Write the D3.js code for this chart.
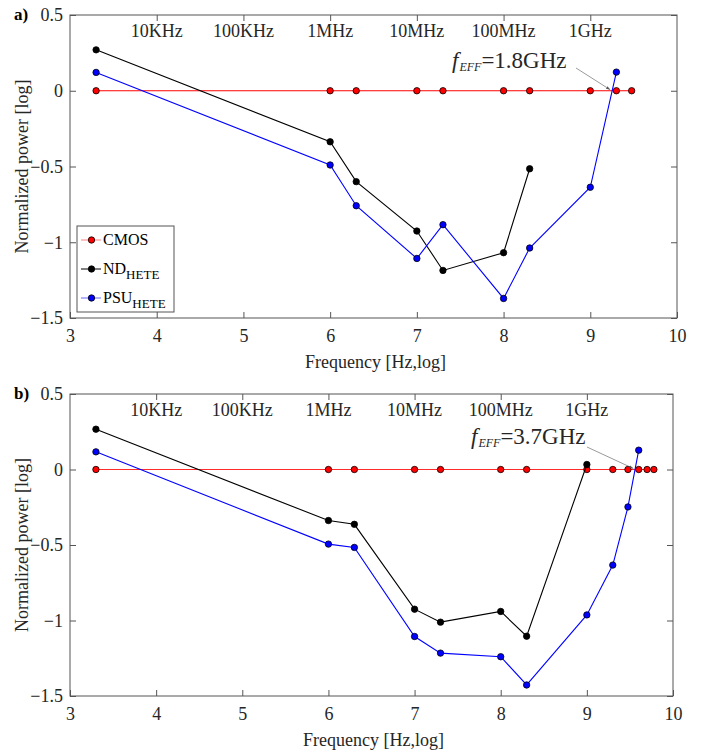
<!DOCTYPE html>
<html>
<head>
<meta charset="utf-8">
<script src="https://cdn.jsdelivr.net/npm/d3@7"></script>
<style>
  body { margin: 0; background: #fff; }
  svg text { font-family: "Liberation Serif", "DejaVu Serif", serif; fill: #262626; }
</style>
</head>
<body>
<svg id="chart" width="702" height="751"></svg>
<script>
var FONT = '"Liberation Serif", "DejaVu Serif", serif';

// tick labels
var yTicks = [0.5, 0, -0.5, -1, -1.5];
var xTicks = [3, 4, 5, 6, 7, 8, 9, 10];
var topTicks = [4, 5, 6, 7, 8, 9];
var topLabels = ['10KHz', '100KHz', '1MHz', '10MHz', '100MHz', '1GHz'];

// panel a) log10 frequency / normalized power
var aCmosX = [3.301, 6, 6.301, 7, 7.301, 8, 8.301, 9, 9.301, 9.477];
var aNdX = [3.301, 6, 6.301, 7, 7.301, 8, 8.301];
var aNdY = [0.27, -0.337, -0.60, -0.926, -1.186, -1.069, -0.515];
var aPsuX = [3.301, 6, 6.301, 7, 7.301, 8, 8.301, 9, 9.301];
var aPsuY = [0.121, -0.49, -0.759, -1.107, -0.884, -1.371, -1.038, -0.637, 0.123];

// panel b)
var bCmosX = [3.301, 6, 6.301, 7, 7.301, 8, 8.301, 9, 9.301, 9.477, 9.602, 9.699, 9.778];
var bNdX = [3.301, 6, 6.301, 7, 7.301, 8, 8.301, 9];
var bNdY = [0.267, -0.338, -0.363, -0.925, -1.011, -0.94, -1.104, 0.033];
var bPsuX = [3.301, 6, 6.301, 7, 7.301, 8, 8.301, 9, 9.301, 9.477, 9.602];
var bPsuY = [0.117, -0.494, -0.516, -1.106, -1.216, -1.24, -1.427, -0.963, -0.633, -0.248, 0.128];

var svg = d3.select('#chart');

svg.append('defs').append('marker')
  .attr('id', 'arr')
  .attr('viewBox', '0 0 10 10')
  .attr('refX', 10).attr('refY', 5)
  .attr('markerWidth', 7).attr('markerHeight', 7)
  .attr('orient', 'auto')
  .append('path')
  .attr('d', 'M0,1.5 L10,5 L0,8.5 z')
  .attr('fill', '#555');

function zip(xs, ys) {
  return xs.map(function (x, i) { return [x, ys ? ys[i] : 0]; });
}

function panel(o) {
  var g = svg.append('g');
  var x = d3.scaleLinear().domain([3, 10]).range([o.x0, o.x1]);
  var y = d3.scaleLinear().domain([-1.5, 0.5]).range([o.y1, o.y0]);

  // box
  g.append('rect')
    .attr('x', o.x0).attr('y', o.y0)
    .attr('width', o.x1 - o.x0).attr('height', o.y1 - o.y0)
    .attr('fill', 'none').attr('stroke', '#555').attr('stroke-width', 1);

  var ax = function (a) {
    a.attr('font-family', FONT).attr('font-size', 18);
    a.select('.domain').remove();
    a.selectAll('line').attr('stroke', '#555');
    a.selectAll('text').style('font-family', FONT).style('font-size', '18px').attr('fill', '#262626');
  };

  g.append('g').attr('transform', 'translate(0,' + o.y1 + ')')
    .call(d3.axisBottom(x).tickValues(xTicks).tickSize(-6).tickPadding(11).tickFormat(d3.format('d')))
    .call(ax);
  g.append('g').attr('transform', 'translate(0,' + o.y0 + ')')
    .call(d3.axisTop(x).tickValues(topTicks).tickSize(-6).tickFormat(''))
    .call(ax);
  g.append('g').attr('transform', 'translate(' + o.x0 + ',0)')
    .call(d3.axisLeft(y).tickValues(yTicks).tickSize(-6).tickPadding(7).tickFormat(function (d) { return d === 0 ? '0' : d3.format('')(d); }))
    .call(ax);
  g.append('g').attr('transform', 'translate(' + o.x1 + ',0)')
    .call(d3.axisRight(y).tickValues(yTicks).tickSize(-6).tickFormat(''))
    .call(ax);

  // frequency labels inside top
  g.selectAll('.flab').data(topTicks).enter().append('text')
    .attr('x', function (d) { return x(d); })
    .attr('y', o.y0 + 22)
    .attr('text-anchor', 'middle')
    .style('font-size', '18px')
    .text(function (d, i) { return topLabels[i]; });

  var line = d3.line().x(function (d) { return x(d[0]); }).y(function (d) { return y(d[1]); });
  var series = [
    { pts: zip(o.cmosX), line: o.cmosLine, fill: '#ff0000' },
    { pts: zip(o.ndX, o.ndY), line: '#000000', fill: '#000000' },
    { pts: zip(o.psuX, o.psuY), line: '#0000ff', fill: '#0000ff' }
  ];
  series.forEach(function (s) {
    g.append('path').datum(s.pts).attr('d', line)
      .attr('fill', 'none').attr('stroke', s.line).attr('stroke-width', 1.1);
    g.selectAll(null).data(s.pts).enter().append('circle')
      .attr('cx', function (d) { return x(d[0]); })
      .attr('cy', function (d) { return y(d[1]); })
      .attr('r', 3.2)
      .attr('fill', s.fill).attr('stroke', '#000').attr('stroke-width', 0.8);
  });

  // annotation
  var t = g.append('text').attr('x', o.ann[0]).attr('y', o.ann[1]).style('font-size', '23px').attr('fill', '#333');
  t.append('tspan').style('font-style', 'italic').text('f');
  t.append('tspan').style('font-style', 'italic').style('font-size', '12px').attr('dx', 1).attr('dy', 3).text('EFF');
  t.append('tspan').attr('dy', -3).text('=' + o.annText);
  g.append('line')
    .attr('x1', o.arrow[0]).attr('y1', o.arrow[1])
    .attr('x2', x(o.arrowTo[0])).attr('y2', y(o.arrowTo[1]) - 1)
    .attr('stroke', '#555').attr('stroke-width', 0.6)
    .attr('marker-end', 'url(#arr)');

  // panel letter
  g.append('text').attr('x', 14).attr('y', o.y0 + 5)
    .style('font-size', '17px').style('font-weight', 'bold').style('fill', '#000').text(o.letter);

  // axis titles
  g.append('text').attr('x', (o.x0 + o.x1) / 2 + 2).attr('y', o.y1 + 50)
    .attr('text-anchor', 'middle').style('font-size', '18px').text('Frequency [Hz,log]');
  g.append('text')
    .attr('transform', 'translate(' + 28 + ',' + ((o.y0 + o.y1) / 2) + ') rotate(-90)')
    .attr('text-anchor', 'middle').style('font-size', '18px').text('Normalized power [log]');

  return { g: g, x: x, y: y };
}

var pa = panel({
  x0: 70, x1: 677, y0: 15, y1: 318, letter: 'a)',
  cmosX: aCmosX, ndX: aNdX, ndY: aNdY, psuX: aPsuX, psuY: aPsuY,
  cmosLine: '#ff0000',
  ann: [452, 68], annText: '1.8GHz', arrow: [576, 68], arrowTo: [9.23, 0]
});

var pb = panel({
  x0: 70, x1: 673, y0: 394, y1: 696, letter: 'b)',
  cmosX: bCmosX, ndX: bNdX, ndY: bNdY, psuX: bPsuX, psuY: bPsuY,
  cmosLine: '#ff2a2a',
  ann: [471, 444], annText: '3.7GHz', arrow: [587, 447], arrowTo: [9.54, 0]
});

// legend (panel a)
var legendNames = ['CMOS', 'ND', 'PSU'];
var legendSubs = ['', 'HETE', 'HETE'];
var legendLine = ['#ff8080', '#000000', '#6666ff'];
var legendFill = ['#ff0000', '#000000', '#0000ff'];
var lg = pa.g.append('g');
lg.append('rect').attr('x', 77).attr('y', 226).attr('width', 97).attr('height', 86)
  .attr('fill', '#fff').attr('stroke', '#555').attr('stroke-width', 1);
legendNames.forEach(function (n, i) {
  var cy = 240 + i * 29;
  lg.append('line').attr('x1', 81).attr('x2', 101).attr('y1', cy).attr('y2', cy)
    .attr('stroke', legendLine[i]).attr('stroke-width', 1);
  lg.append('circle').attr('cx', 91.5).attr('cy', cy).attr('r', 3.2)
    .attr('fill', legendFill[i]).attr('stroke', '#000').attr('stroke-width', 0.8);
  var t = lg.append('text').attr('x', 103).attr('y', cy + 5).style('font-size', '16px').style('fill', '#000');
  t.append('tspan').text(n);
  if (legendSubs[i]) t.append('tspan').attr('dy', 5).style('font-size', '13px').text(legendSubs[i]);
});
</script>
</body>
</html>
